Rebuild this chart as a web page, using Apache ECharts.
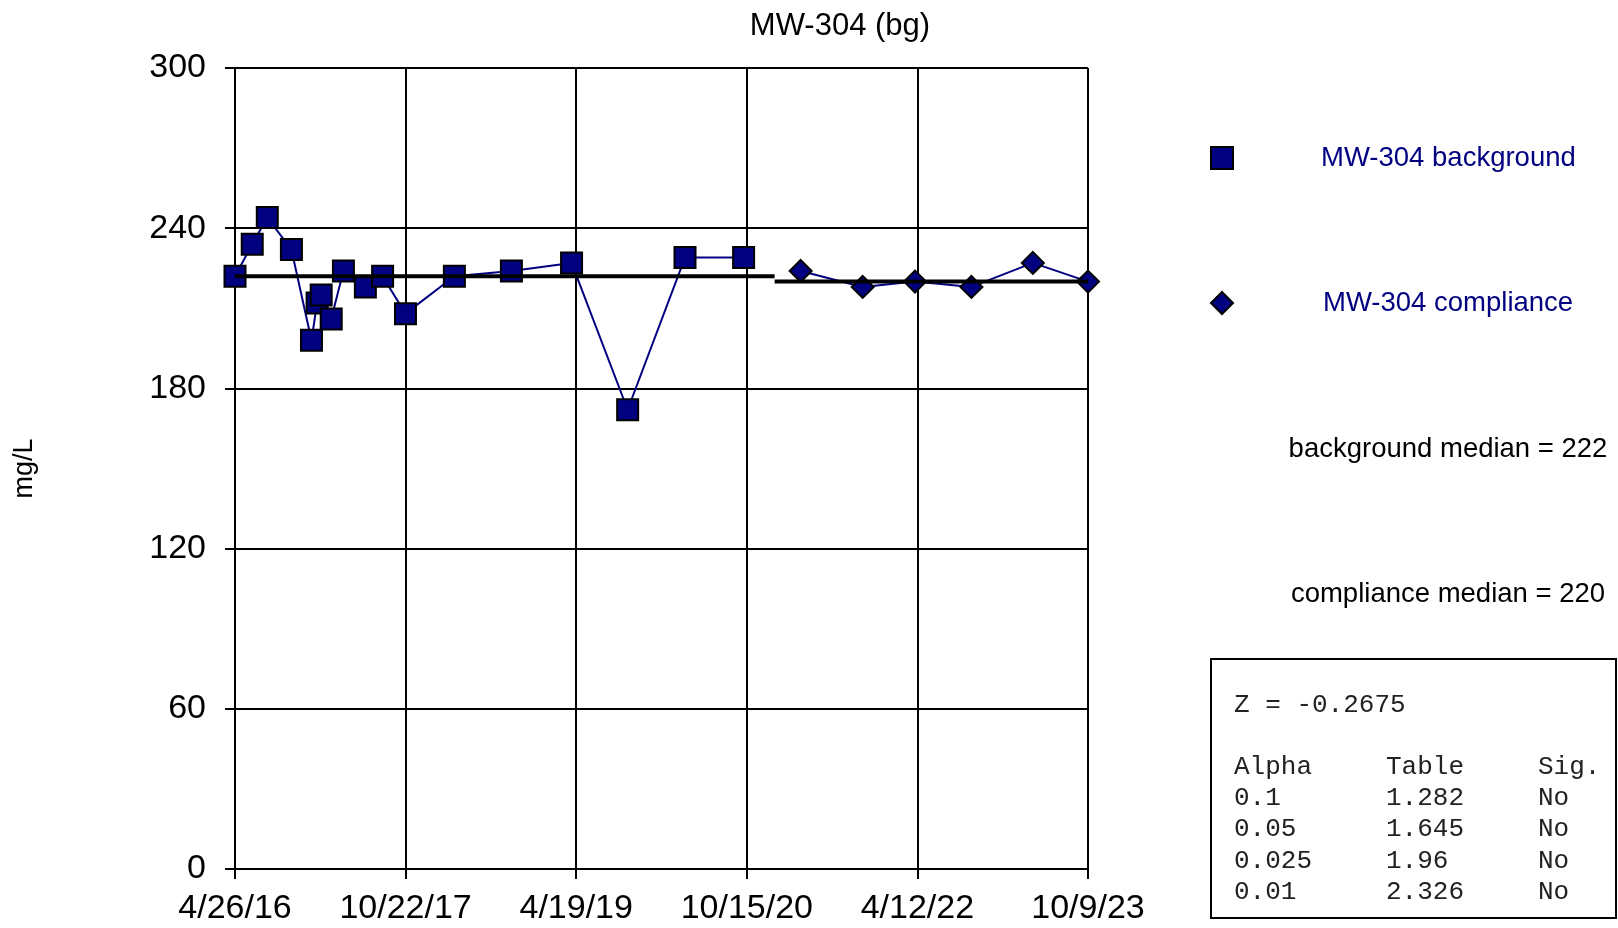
<!DOCTYPE html>
<html>
<head>
<meta charset="utf-8">
<script src="https://cdn.jsdelivr.net/npm/echarts@6/dist/echarts.min.js"></script>
<style>
html,body{margin:0;padding:0;background:#fff;}
#chart{width:1618px;height:928px;}
</style>
</head>
<body>
<div id="chart"></div>
<script>
// ---- Data ----
const axisStart = '2016-04-26';
const axisEnd = '2023-10-09';
const axisTickCount = 5;
const yTicks = [0, 60, 120, 180, 240, 300];

const bgDates = ['2016-04-26','2016-06-20','2016-08-07','2016-10-23','2016-12-26','2017-01-13','2017-01-26','2017-02-27','2017-04-07','2017-06-16','2017-08-10','2017-10-22','2018-03-27','2018-09-25','2019-04-05','2019-10-01','2020-04-01','2020-10-05'];
const bgValues = [222, 234, 244, 232, 198, 212, 215, 206, 224, 218, 222, 208, 222, 224, 227, 172, 229, 229];

const compDates = ['2021-04-05','2021-10-20','2022-04-05','2022-10-02','2023-04-16','2023-10-09'];
const compValues = [224, 218, 220, 218, 227, 220];

const bgMedian = 222;
const compMedian = 220;

const statsZ = 'Z = -0.2675';
const statsHeader = ['Alpha', 'Table', 'Sig.'];
const statsAlpha = ['0.1', '0.05', '0.025', '0.01'];
const statsTable = ['1.282', '1.645', '1.96', '2.326'];
const statsSig = ['No', 'No', 'No', 'No'];

// ---- Helpers ----
const DAY = 86400000;
function toUTC(s){ const p = s.split('-').map(Number); return Date.UTC(p[0], p[1]-1, p[2]); }
const t0 = toUTC(axisStart);
function dayOf(s){ return Math.round((toUTC(s) - t0) / DAY); }
function fmtDay(d){
  const dt = new Date(t0 + Math.floor(d + 1e-6) * DAY);
  return (dt.getUTCMonth()+1) + '/' + dt.getUTCDate() + '/' + String(dt.getUTCFullYear()).slice(2);
}

const bgData = bgDates.map((d, i) => [dayOf(d), bgValues[i]]);
const compData = compDates.map((d, i) => [dayOf(d), compValues[i]]);
const xMax = dayOf(axisEnd);
const xInterval = xMax / axisTickCount;
const splitDay = (dayOf(bgDates[bgDates.length-1]) + dayOf(compDates[0])) / 2 + 8;

const FONT = "'Liberation Sans', Arial, Helvetica, sans-serif";
const MONO = "'Courier New', 'Liberation Mono', monospace";
const NAVY = '#000080';

// stats box graphics
const statsGraphics = [];
statsGraphics.push({type:'rect', left:1210, top:658, shape:{width:405, height:259}, style:{fill:'#fff', stroke:'#000', lineWidth:2}});
const colX = [1234, 1386, 1538];
function monoText(x, y, txt){
  return {type:'text', x:x, y:y, style:{text:txt, font:'26px ' + MONO, fill:'#222', textVerticalAlign:'middle', verticalAlign:'middle'}};
}
statsGraphics.push(monoText(colX[0], 705, statsZ));
statsHeader.forEach((h, i) => statsGraphics.push(monoText(colX[i], 767, h)));
const rowY = [798, 829, 861, 892];
statsAlpha.forEach((a, r) => {
  statsGraphics.push(monoText(colX[0], rowY[r], a));
  statsGraphics.push(monoText(colX[1], rowY[r], statsTable[r]));
  statsGraphics.push(monoText(colX[2], rowY[r], statsSig[r]));
});
function plainText(x, y, txt){
  return {type:'text', x:x, y:y, style:{text:txt, font:'27.5px ' + FONT, fill:'#000', textAlign:'center', align:'center', textVerticalAlign:'middle', verticalAlign:'middle'}};
}
statsGraphics.push(plainText(1448, 449, 'background median = ' + bgMedian));
statsGraphics.push(plainText(1448, 594, 'compliance median = ' + compMedian));

const chart = echarts.init(document.getElementById('chart'), null, {renderer:'canvas'});
chart.setOption({
  animation: false,
  backgroundColor: '#fff',
  title: {
    text: 'MW-304 (bg)',
    left: 835, top: 6, textAlign: 'center',
    textStyle: {fontFamily: FONT, fontSize: 31, fontWeight: 'normal', color: '#000'}
  },
  grid: {left: 235, right: 530, top: 68, bottom: 59, containLabel: false, outerBoundsMode: 'none'},
  legend: [
    {
      data: ['MW-304 background'], left: 1205, top: 139, orient: 'vertical',
      itemWidth: 22, itemHeight: 22, icon: 'rect',
      itemStyle: {color: NAVY, borderColor: '#000', borderWidth: 2},
      textStyle: {fontFamily: FONT, fontSize: 27.5, color: NAVY, padding: [0,0,0,83]},
      selectedMode: false
    },
    {
      data: ['MW-304 compliance'], left: 1205, top: 284, orient: 'vertical',
      itemWidth: 22, itemHeight: 22, icon: 'diamond',
      itemStyle: {color: NAVY, borderColor: '#000', borderWidth: 2},
      textStyle: {fontFamily: FONT, fontSize: 27.5, color: NAVY, padding: [0,0,0,85]},
      selectedMode: false
    }
  ],
  xAxis: {
    type: 'value', min: 0, max: xMax, interval: xInterval,
    axisLine: {show: true, onZero: false, lineStyle: {color: '#000', width: 2}},
    axisTick: {show: true, length: 10, lineStyle: {color: '#000', width: 2}},
    axisLabel: {
      formatter: v => fmtDay(v), fontFamily: FONT, fontSize: 34, color: '#000', margin: 23,
      showMinLabel: true, showMaxLabel: true
    },
    splitLine: {show: true, lineStyle: {color: '#000', width: 2}}
  },
  yAxis: {
    type: 'value', min: yTicks[0], max: yTicks[yTicks.length-1], interval: yTicks[1] - yTicks[0],
    name: 'mg/L', nameLocation: 'middle', nameRotate: 90, nameGap: 197,
    nameTextStyle: {fontFamily: FONT, fontSize: 27, color: '#000'},
    axisLine: {show: true, lineStyle: {color: '#000', width: 2}},
    axisTick: {show: true, length: 10, lineStyle: {color: '#000', width: 2}},
    axisLabel: {fontFamily: FONT, fontSize: 34, color: '#000', margin: 29},
    splitLine: {show: true, lineStyle: {color: '#000', width: 2}}
  },
  series: [
    {
      name: 'MW-304 background', type: 'line', data: bgData,
      symbol: 'rect', symbolSize: 21,
      lineStyle: {color: NAVY, width: 2},
      itemStyle: {color: NAVY, borderColor: '#000', borderWidth: 2},
      z: 3
    },
    {
      name: 'MW-304 compliance', type: 'line', data: compData,
      symbol: 'diamond', symbolSize: 22,
      lineStyle: {color: NAVY, width: 2},
      itemStyle: {color: NAVY, borderColor: '#000', borderWidth: 2},
      z: 3
    },
    {
      name: 'bg median', type: 'line', data: [[0, bgMedian], [splitDay, bgMedian]],
      symbol: 'none', lineStyle: {color: '#000', width: 4}, z: 5, silent: true
    },
    {
      name: 'comp median', type: 'line', data: [[splitDay, compMedian], [xMax, compMedian]],
      symbol: 'none', lineStyle: {color: '#000', width: 4}, z: 5, silent: true
    }
  ],
  graphic: statsGraphics
});
</script>
</body>
</html>
